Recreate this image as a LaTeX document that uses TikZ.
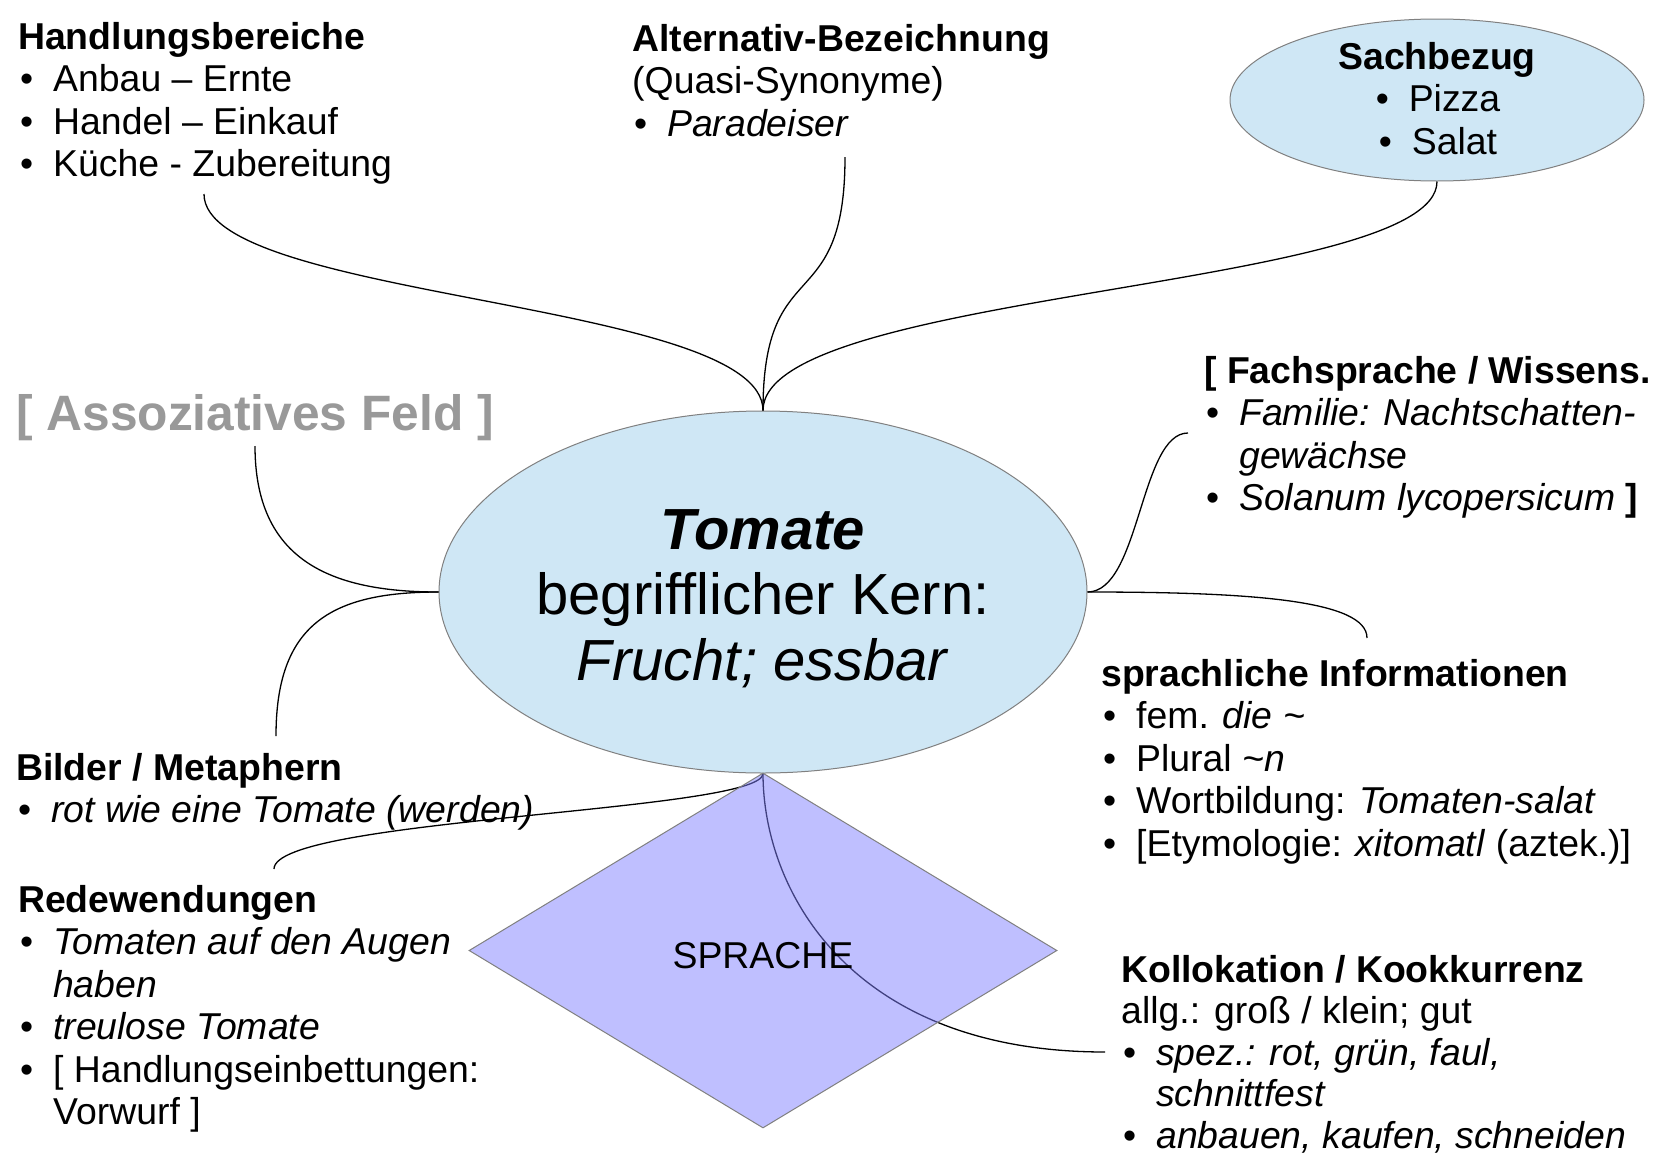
\documentclass[tikz,border=0pt]{standalone}
\usepackage{fontspec}
\setmainfont{Liberation Sans}
\usetikzlibrary{shapes.geometric}
\definecolor{ellblue}{RGB}{207,231,245}
\definecolor{sprfill}{RGB}{128,128,255}
\definecolor{assgray}{RGB}{153,153,153}
\definecolor{edgegray}{RGB}{128,128,128}
\newcommand{\bu}{\makebox[35pt][l]{\hspace{2pt}•}}
\newcommand{\ct}{\hspace*{35pt}}
\newcommand{\blocktext}[1]{\parbox[t]{700pt}{\raggedright #1}}
\tikzset{
  blk/.style={anchor=base west, inner sep=0pt, font=\fontsize{37.4}{42.5}\selectfont},
  conn/.style={draw=black, line width=1.3pt},
  bubble/.style={ellipse, draw=edgegray, line width=1pt, fill=ellblue, inner sep=0pt},
}
\begin{document}
\begin{tikzpicture}[x=1pt,y=-1pt]
\useasboundingbox (0,0) rectangle (1666,1154);
\fill[white] (0,0) rectangle (1666,1154);

% bubbles
\node[bubble, minimum width=648pt, minimum height=362pt] (main) at (763,592) {};
\node[bubble, minimum width=414pt, minimum height=162pt] (sach) at (1437,100) {};

% free ends of connectors
\coordinate (handlE) at (204,194);
\coordinate (altE) at (845,157);
\coordinate (assE) at (255,446);
\coordinate (bildE) at (276,736);
\coordinate (fachE) at (1188,433);
\coordinate (sprE) at (1367,638);
\coordinate (kollE) at (1105,1052);
\coordinate (redE) at (274,869);

% connectors
\draw[conn] (handlE) .. controls (204,300) and (763,300) .. (main.north);
\draw[conn] (altE) .. controls (845,320) and (763,250) .. (main.north);
\draw[conn] (sach.south) .. controls (1437,290) and (763,290) .. (main.north);
\draw[conn] (assE) .. controls (255,560) and (330,592) .. (main.west);
\draw[conn] (main.west) .. controls (330,592) and (276,625) .. (bildE);
\draw[conn] (main.east) .. controls (1140,592) and (1140,433) .. (fachE);
\draw[conn] (main.east) .. controls (1250,592) and (1367,600) .. (sprE);
\draw[conn] (main.south) .. controls (763,890) and (850,1052) .. (kollE);
\draw[conn] (main.south) .. controls (763,812) and (274,818) .. (redE);

% SPRACHE diamond (semi-transparent over the connectors)
\node[diamond, draw=edgegray, line width=1pt, fill=sprfill, fill opacity=0.5, text opacity=1,
      minimum width=588pt, minimum height=355pt, inner sep=0pt,
      font=\fontsize{37.4}{42.5}\selectfont] (spr) at (763,950.5) {\raisebox{-4pt}[27pt][0pt]{SPRACHE}};

% texts
\node[anchor=base, inner sep=0pt, font=\fontsize{58}{65.5}\selectfont] (kern) at (763,549)
  {\parbox[t]{640pt}{\centering\textbf{\textit{Tomate}}\\begrifflicher Kern:\\\textit{Frucht; essbar}}};

\node[anchor=base, inner sep=0pt, font=\fontsize{37.4}{42.5}\selectfont] (sachtxt) at (1437,69)
  {\parbox[t]{400pt}{\centering\textbf{Sachbezug}\\ \bu Pizza\\ \bu Salat}};

\node[blk] (handl) at (18,49) {\blocktext{\textbf{Handlungsbereiche}\\
  \bu Anbau – Ernte\\
  \bu Handel – Einkauf\\
  \bu Küche - Zubereitung}};

\node[blk] (alt) at (632,51) {\blocktext{\textbf{Alternativ-Bezeichnung}\\
  (Quasi-Synonyme)\\
  \bu\textit{Paradeiser}}};

\node[blk] (fach) at (1204,383) {\blocktext{\textbf{[ Fachsprache / Wissens.}\\
  \bu\textit{Familie: Nachtschatten-}\\
  \ct\textit{gewächse}\\
  \bu\textit{Solanum lycopersicum} \textbf{]}}};

\node[anchor=base west, inner sep=0pt, text=assgray, font=\bfseries\fontsize{49.7}{55}\selectfont] (assoz) at (16,430) {[ Assoziatives Feld ]};

\node[blk] (sprinfo) at (1101,686) {\blocktext{\textbf{sprachliche Informationen}\\
  \bu fem. \textit{die \textasciitilde}\\
  \bu Plural \textit{\textasciitilde n}\\
  \bu Wortbildung: \textit{Tomaten-salat}\\
  \bu [Etymologie: \textit{xitomatl} (aztek.)]}};

\node[blk] (bilder) at (16,780) {\blocktext{\textbf{Bilder / Metaphern}\\
  \bu\textit{rot wie eine Tomate (werden)}}};

\node[blk] (redew) at (18,912) {\blocktext{\textbf{Redewendungen}\\
  \bu\textit{Tomaten auf den Augen}\\
  \ct\textit{haben}\\
  \bu\textit{treulose Tomate}\\
  \bu [ Handlungseinbettungen:\\
  \ct Vorwurf ]}};

\node[blk, font=\fontsize{37.4}{41.5}\selectfont] (koll) at (1121,982) {\blocktext{\textbf{Kollokation / Kookkurrenz}\\
  allg.: groß / klein; gut\\
  \bu\textit{spez.: rot, grün, faul,}\\
  \ct\textit{schnittfest}\\
  \bu\textit{anbauen, kaufen, schneiden}}};
\end{tikzpicture}
\end{document}
